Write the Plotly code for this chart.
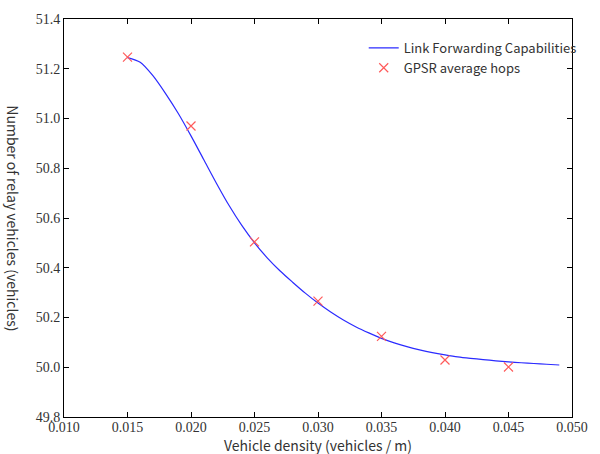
import plotly.graph_objects as go

# Curve: Link Forwarding Capabilities
curve_x = [0.015, 0.016, 0.017, 0.018, 0.019, 0.020, 0.021, 0.022, 0.023, 0.024,
           0.025, 0.026, 0.027, 0.028, 0.029, 0.030, 0.031, 0.032, 0.033, 0.034,
           0.035, 0.036, 0.037, 0.038, 0.039, 0.040, 0.041, 0.042, 0.043, 0.044,
           0.045, 0.046, 0.047, 0.048, 0.049]
curve_y = [51.245, 51.226, 51.172, 51.100, 51.020, 50.930, 50.835, 50.740, 50.650, 50.570,
           50.500, 50.440, 50.388, 50.342, 50.298, 50.258, 50.222, 50.190, 50.162, 50.138,
           50.116, 50.098, 50.083, 50.070, 50.059, 50.050, 50.042, 50.036, 50.031, 50.026,
           50.022, 50.018, 50.015, 50.012, 50.009]

# Points: GPSR average hops
gpsr_x = [0.015, 0.020, 0.025, 0.030, 0.035, 0.040, 0.045]
gpsr_y = [51.247, 50.970, 50.504, 50.266, 50.124, 50.029, 50.001]

x_ticks = [0.010, 0.015, 0.020, 0.025, 0.030, 0.035, 0.040, 0.045, 0.050]
y_ticks = [49.8, 50.0, 50.2, 50.4, 50.6, 50.8, 51.0, 51.2, 51.4]

fig = go.Figure()
fig.add_trace(go.Scatter(
    x=curve_x, y=curve_y, mode="lines", name="Link Forwarding Capabilities",
    line=dict(color="#2b2bff", width=1.2, shape="spline", smoothing=0.8)))
fig.add_trace(go.Scatter(
    x=gpsr_x, y=gpsr_y, mode="markers", name="GPSR average hops",
    marker=dict(symbol="x-thin-open", size=9, color="#ff5a5a",
                line=dict(color="#ff5a5a", width=1.2))))

tick_font = dict(family="Liberation Serif", size=14, color="#333333")
axis_common = dict(showgrid=False, zeroline=False, showline=True, linecolor="black",
                   linewidth=1, mirror="ticks", ticks="inside", ticklen=5,
                   tickcolor="black", tickfont=tick_font)

fig.update_xaxes(range=[0.010, 0.050], tickvals=x_ticks,
                 ticktext=[f"{v:.3f}" for v in x_ticks], ticklabelstandoff=-3, **axis_common)
fig.update_yaxes(range=[49.8, 51.4], tickvals=y_ticks,
                 ticktext=[f"{v:.1f}" for v in y_ticks], **axis_common)

fig.add_annotation(text="Number of relay vehicles (vehicles)", textangle=90,
                   xref="paper", yref="paper", x=-0.101, y=0.5,
                   showarrow=False, xanchor="center", yanchor="middle",
                   font=dict(family="Noto Sans CJK SC", size=14, color="#333333"))
fig.add_annotation(text="Vehicle density (vehicles / m)",
                   xref="paper", yref="paper", x=0.5, y=-0.071,
                   showarrow=False, xanchor="center", yanchor="middle",
                   font=dict(family="Noto Sans CJK SC", size=14, color="#333333"))

fig.update_layout(
    width=600, height=454,
    margin=dict(l=64, r=23, t=19, b=37),
    paper_bgcolor="white", plot_bgcolor="white",
    showlegend=True,
    legend=dict(x=0.59, y=0.965, xanchor="left", yanchor="top",
                bgcolor="rgba(0,0,0,0)", borderwidth=0, tracegroupgap=0,
                itemwidth=30,
                font=dict(family="Noto Sans CJK SC", size=13, color="#333333")),
)

fig.write_html("out.html")
